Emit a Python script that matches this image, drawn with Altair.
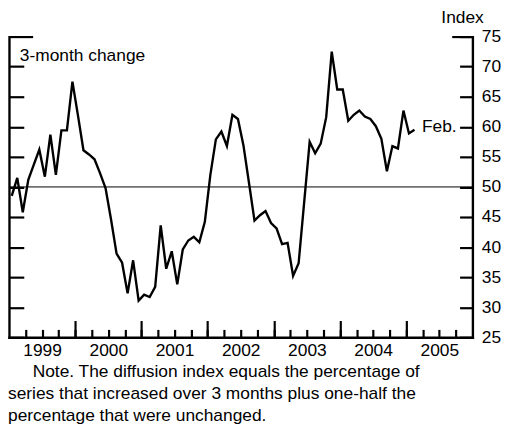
import altair as alt
import pandas as pd

# ---- data ----
start_year = 1999
values = [48.5, 51.5, 45.8, 51.2, 53.7, 56.2, 51.7, 58.7, 52.0, 59.4, 59.4, 67.5,
          61.9, 56.1, 55.4, 54.6, 52.3, 49.8, 44.6, 38.9, 37.4, 32.3, 37.8, 31.1,
          32.1, 31.7, 33.4, 43.6, 36.4, 39.3, 33.8, 39.6, 41.1, 41.7, 40.8, 44.2,
          52.0, 57.9, 59.2, 56.8, 62.0, 61.3, 56.9, 50.7, 44.4, 45.3, 46.0, 44.0,
          43.1, 40.5, 40.7, 35.2, 37.3, 47.4, 57.5, 55.6, 57.2, 61.6, 72.5, 66.2,
          66.2, 61.0, 62.0, 62.7, 61.7, 61.3, 60.1, 58.0, 52.6, 56.8, 56.4, 62.7,
          58.9, 59.5]
year_labels = [1999, 2000, 2001, 2002, 2003, 2004, 2005]
y_ticks = [25, 30, 35, 40, 45, 50, 55, 60, 65, 70, 75]
reference_level = [50]
note_lines = ["Note. The diffusion index equals the percentage of",
              "series that increased over 3 months plus one-half the",
              "percentage that were unchanged."]
panel_label = "3-month change"
end_label = "Feb."
unit_label = "Index"

# ---- build table: month position = months since Jan 1999, mid-month ----
years = [start_year + i // 12 for i in range(len(values))]
months = [i % 12 + 1 for i in range(len(values))]
t = [(y - start_year) * 12 + (m - 1) + 0.5 for y, m in zip(years, months)]
df = pd.DataFrame({"year": years, "month": months, "t": t, "v": values})

n_years = len(year_labels)
x_dom = [0, n_years * 12]
year_mid = [(yl - start_year) * 12 + 6 for yl in year_labels]
year_start = [(yl - start_year) * 12 for yl in year_labels[1:]]
quarters = [q for q in range(3, n_years * 12, 3)]

FONT = "Liberation Sans"
FS = 17.6
W, H = 470, 305
LW = 2.4

xs = alt.Scale(domain=x_dom, nice=False, zero=False)
ys = alt.Scale(domain=[y_ticks[0], y_ticks[-1]], nice=False, zero=False)

def X(axis):
    return alt.X("t:Q", scale=xs, axis=axis)

def Y(axis):
    return alt.Y("v:Q", scale=ys, axis=axis)

common = dict(grid=False, title=None, domainColor="black", tickColor="black",
              labelColor="black", labelFont=FONT, labelFontSize=FS)

ax_years = alt.Axis(values=year_mid, labelExpr="toString(%d + floor(datum.value / 12))" % start_year,
                    ticks=False, tickSize=0, domain=True, domainWidth=LW, domainCap="square",
                    labelPadding=18, labelBaseline="alphabetic", labelFlush=False,
                    labelOverlap=False, orient="bottom", **common)
ax_minor = alt.Axis(values=quarters, ticks=True, tickSize=8, tickWidth=2.2, offset=-8,
                    domain=False, labels=False, orient="bottom", **common)
ax_major = alt.Axis(values=year_start, ticks=True, tickSize=17, tickWidth=2.2, offset=-17,
                    domain=False, labels=False, orient="bottom", **common)

ax_r_labels = alt.Axis(values=y_ticks, ticks=False, tickSize=0, domain=True, domainWidth=LW,
                       domainCap="square", labelPadding=9, labelFlush=False, labelOverlap=False,
                       orient="right", **common)
ax_r_ticks = alt.Axis(values=y_ticks, ticks=True, tickSize=13, tickWidth=2.2, offset=-13,
                      domain=False, labels=False, orient="right", **common)
ax_r_cap = alt.Axis(values=[y_ticks[-1]], ticks=True, tickSize=21, tickWidth=2.2, offset=-21,
                    domain=False, labels=False, orient="right", **common)
ax_l_domain = alt.Axis(ticks=False, tickSize=0, domain=True, domainWidth=LW, domainCap="square",
                       labels=False, orient="left", **common)
ax_l_ticks = alt.Axis(values=y_ticks[:-1], ticks=True, tickSize=15, tickWidth=2.2, offset=-15,
                      domain=False, labels=False, orient="left", **common)
ax_l_cap = alt.Axis(values=[y_ticks[-1]], ticks=True, tickSize=24, tickWidth=2.2, offset=-24,
                    domain=False, labels=False, orient="left", **common)

base = alt.Chart(df)

ref = alt.Chart(pd.DataFrame({"level": reference_level})).mark_rule(
    color="black", strokeWidth=1).encode(y=alt.Y("level:Q", scale=ys, axis=None))

line = base.mark_line(color="black", strokeWidth=LW, strokeJoin="miter").encode(
    x=X(ax_years), y=Y(ax_r_labels))

carriers = [
    base.mark_line(opacity=0).encode(x=X(ax_minor), y=Y(ax_r_ticks)),
    base.mark_line(opacity=0).encode(x=X(ax_major), y=Y(ax_r_cap)),
    base.mark_line(opacity=0).encode(x=X(None), y=Y(ax_l_domain)),
    base.mark_line(opacity=0).encode(x=X(None), y=Y(ax_l_ticks)),
    base.mark_line(opacity=0).encode(x=X(None), y=Y(ax_l_cap)),
]

def label(txt, x, y, align="left", baseline="alphabetic"):
    return alt.Chart(pd.DataFrame({"txt": [txt]})).mark_text(
        x=x, y=y, align=align, baseline=baseline, font=FONT, fontSize=FS, color="black"
    ).encode(text="txt:N")

texts = [
    label(unit_label, 460, -14, align="center"),
    label(panel_label, 11, 25),
    label(end_label, 454, 92, align="right", baseline="middle"),
    label(note_lines[0], 24, 345),
    label(note_lines[1], -1, 368),
    label(note_lines[2], -1, 390),
]

chart = alt.layer(ref, line, *carriers, *texts).resolve_axis(
    x="independent", y="independent"
).properties(
    width=W, height=H,
    autosize=alt.AutoSizeParams(type="none"),
    padding={"left": 1, "top": 26, "right": 29, "bottom": 89},
).configure_view(stroke=None)

chart.save("out.html", embed_options={"renderer": "svg", "actions": False})
